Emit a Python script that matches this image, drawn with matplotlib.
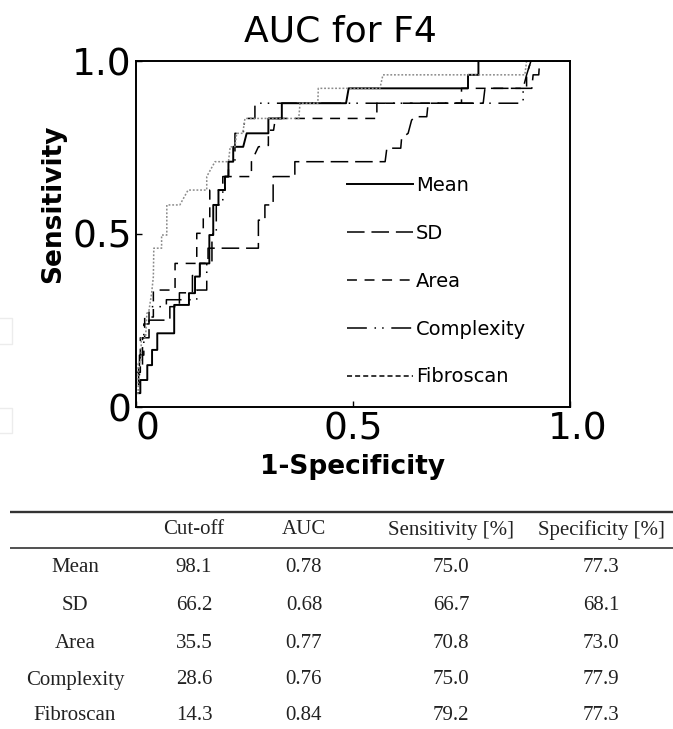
import numpy as np
import matplotlib
matplotlib.use("Agg")
import matplotlib.pyplot as plt
import matplotlib.transforms as mtransforms
from matplotlib.lines import Line2D
from matplotlib.patches import Rectangle

# ROC step curves (1-specificity, sensitivity)
mean_pts = [(0, 0), (0, 0.04), (0.01, 0.04), (0.01, 0.078), (0.026, 0.078), (0.026, 0.121),
            (0.037, 0.121), (0.037, 0.165), (0.049, 0.165), (0.049, 0.213), (0.088, 0.213),
            (0.088, 0.295), (0.122, 0.295), (0.122, 0.329), (0.136, 0.329), (0.136, 0.377),
            (0.147, 0.377), (0.147, 0.415), (0.169, 0.415), (0.169, 0.497), (0.178, 0.497),
            (0.178, 0.584), (0.19, 0.584), (0.19, 0.627), (0.205, 0.627), (0.205, 0.666),
            (0.213, 0.666), (0.213, 0.709), (0.224, 0.709), (0.224, 0.752), (0.247, 0.752),
            (0.255, 0.791), (0.305, 0.791), (0.305, 0.834), (0.336, 0.834), (0.336, 0.878),
            (0.484, 0.878), (0.49, 0.921), (0.765, 0.921), (0.765, 0.96), (0.789, 0.96),
            (0.789, 1.0), (1.0, 1.0)]
sd_pts = [(0, 0), (0, 0.05), (0.006, 0.05), (0.006, 0.12), (0.015, 0.12), (0.015, 0.2),
          (0.03, 0.2), (0.03, 0.251), (0.078, 0.251), (0.078, 0.29), (0.1, 0.29), (0.1, 0.33),
          (0.13, 0.33), (0.13, 0.38), (0.147, 0.38), (0.147, 0.415), (0.166, 0.415),
          (0.166, 0.459), (0.282, 0.459), (0.282, 0.54), (0.297, 0.54), (0.297, 0.584),
          (0.316, 0.584), (0.316, 0.666), (0.366, 0.666), (0.366, 0.709), (0.574, 0.709),
          (0.578, 0.748), (0.61, 0.748), (0.612, 0.777), (0.627, 0.791), (0.635, 0.829),
          (0.643, 0.839), (0.67, 0.839), (0.673, 0.878), (0.80, 0.878), (0.804, 0.921),
          (0.912, 0.921), (0.915, 0.96), (0.928, 0.96), (0.93, 1.0), (1.0, 1.0)]
area_pts = [(0, 0), (0, 0.1), (0.01, 0.1), (0.01, 0.2), (0.02, 0.2), (0.02, 0.26), (0.04, 0.26),
            (0.04, 0.338), (0.09, 0.338), (0.09, 0.415), (0.14, 0.415), (0.14, 0.502),
            (0.155, 0.502), (0.155, 0.546), (0.17, 0.546), (0.17, 0.627), (0.205, 0.627),
            (0.205, 0.666), (0.266, 0.666), (0.266, 0.709), (0.282, 0.752), (0.305, 0.756),
            (0.305, 0.8), (0.317, 0.8), (0.321, 0.834), (0.555, 0.834), (0.555, 0.878),
            (0.75, 0.878), (0.75, 0.921), (0.9, 0.921), (0.9, 0.96), (0.91, 1.0), (1.0, 1.0)]
complexity_pts = [(0, 0), (0, 0.06), (0.008, 0.06), (0.008, 0.15), (0.018, 0.15), (0.018, 0.24),
                  (0.03, 0.24), (0.03, 0.29), (0.07, 0.29), (0.07, 0.31), (0.14, 0.31),
                  (0.14, 0.338), (0.163, 0.338), (0.163, 0.415), (0.175, 0.415), (0.175, 0.5),
                  (0.185, 0.5), (0.185, 0.584), (0.2, 0.584), (0.2, 0.666), (0.213, 0.666),
                  (0.213, 0.709), (0.228, 0.709), (0.228, 0.791), (0.247, 0.791), (0.251, 0.834),
                  (0.274, 0.834), (0.274, 0.878), (0.892, 0.878), (0.892, 0.921), (0.9, 0.96),
                  (0.91, 1.0), (1.0, 1.0)]
fibroscan_pts = [(0, 0), (0, 0.04), (0.005, 0.04), (0.005, 0.13), (0.012, 0.13), (0.012, 0.2),
                 (0.022, 0.2), (0.025, 0.27), (0.03, 0.28), (0.036, 0.329), (0.04, 0.377),
                 (0.041, 0.459), (0.059, 0.459), (0.059, 0.497), (0.071, 0.497), (0.071, 0.584),
                 (0.101, 0.584), (0.12, 0.627), (0.163, 0.627), (0.163, 0.666), (0.182, 0.709),
                 (0.213, 0.709), (0.217, 0.752), (0.228, 0.752), (0.232, 0.791), (0.246, 0.791),
                 (0.251, 0.834), (0.375, 0.834), (0.378, 0.878), (0.419, 0.878), (0.42, 0.921),
                 (0.562, 0.921), (0.569, 0.96), (0.896, 0.96), (0.9, 1.0), (1.0, 1.0)]

series_names = ["Mean", "SD", "Area", "Complexity", "Fibroscan"]
series_pts = [mean_pts, sd_pts, area_pts, complexity_pts, fibroscan_pts]

# table below the chart
col_headers = ["", "Cut-off", "AUC", "Sensitivity [%]", "Specificity [%]"]
row_labels = ["Mean", "SD", "Area", "Complexity", "Fibroscan"]
cutoff = ["98.1", "66.2", "35.5", "28.6", "14.3"]
auc = ["0.78", "0.68", "0.77", "0.76", "0.84"]
sensitivity = ["75.0", "66.7", "70.8", "75.0", "79.2"]
specificity = ["77.3", "68.1", "73.0", "77.9", "77.3"]

styles = [
    dict(color="black", linestyle="-", linewidth=1.4),
    dict(color="black", linestyle=(0, (11.5, 4.5)), linewidth=1.1),
    dict(color="black", linestyle=(0, (6.5, 5.0)), linewidth=1.1),
    dict(color="black", linestyle=(0, (13, 5, 1, 4, 1, 5)), linewidth=1.1),
    dict(color="#8a8a8a", linestyle=(0, (1.2, 1.2)), linewidth=1.1),
]
legend_styles = [dict(s) for s in styles]
legend_styles[4] = dict(color="black", linestyle=(0, (3.3, 2.0)), linewidth=1.1)

W, H = 673, 729
fig = plt.figure(figsize=(W / 100, H / 100), dpi=100)
fig.patch.set_facecolor("white")

ax = fig.add_axes([136 / W, 1 - 407 / H, 434 / W, 346 / H])
for pts, st in zip(series_pts, styles):
    arr = np.array(pts)
    ax.plot(arr[:, 0], arr[:, 1], **st)

ax.set_xlim(0, 1)
ax.set_ylim(0, 1)
ax.set_xticks([0, 0.5, 1.0])
ax.set_xticklabels(["0", "0.5", "1.0"])
ax.set_yticks([0, 0.5, 1.0])
ax.set_yticklabels(["0", "0.5", "1.0"])
ax.tick_params(direction="in", length=4, width=1, labelsize=27)
ax.tick_params(axis="x", pad=3)
ax.tick_params(axis="y", pad=3)
xlabels = ax.get_xticklabels()
xlabels[0].set_horizontalalignment("left")
xlabels[2].set_transform(xlabels[2].get_transform() +
                         mtransforms.ScaledTranslation(0.08, 0, fig.dpi_scale_trans))
for sp in ax.spines.values():
    sp.set_linewidth(1.4)

ax.set_xlabel("1-Specificity", fontsize=19, fontweight="bold", labelpad=5)
ax.set_ylabel("Sensitivity", fontsize=19, fontweight="bold", labelpad=2)
ax.yaxis.set_label_coords(-0.16, 0.587)
ax.set_title("AUC for F4", fontsize=26, pad=14, x=0.47)

handles = [Line2D([0], [0], **st) for st in legend_styles]
ax.legend(handles, series_names, loc="upper left", bbox_to_anchor=(0.486, 0.667),
          frameon=False, fontsize=14, handlelength=3.4, handletextpad=0.15,
          labelspacing=1.48, borderpad=0, borderaxespad=0)

# faint boxes at the left edge of the screenshot
for y0, y1 in [(318, 344), (408, 433)]:
    fig.patches.append(Rectangle((-2 / W, 1 - y1 / H), 14 / W, (y1 - y0) / H,
                                 transform=fig.transFigure, fill=False,
                                 edgecolor="#ececec", linewidth=1))

# table
tab = fig.add_axes([0, 0, 1, 250 / H])
tab.set_xlim(0, W)
tab.set_ylim(H, H - 250)
tab.axis("off")
col_x = [75, 194, 304, 451, 601]
header_y = 530
row_y = [567, 606, 643, 680, 716]
tfont = dict(family="Liberation Serif", fontsize=15, color="#222222",
             ha="center", va="center")
tab.plot([10, W], [512, 512], color="#333333", linewidth=1.7, solid_capstyle="butt")
tab.plot([10, W], [548, 548], color="#333333", linewidth=1.2, solid_capstyle="butt")
for cx, h in zip(col_x, col_headers):
    tab.text(cx, header_y, h, **tfont)
for i, ry in enumerate(row_y):
    vals = [row_labels[i], cutoff[i], auc[i], sensitivity[i], specificity[i]]
    for cx, v in zip(col_x, vals):
        tab.text(cx, ry, v, **tfont)

fig.savefig("out.png", dpi=100)
